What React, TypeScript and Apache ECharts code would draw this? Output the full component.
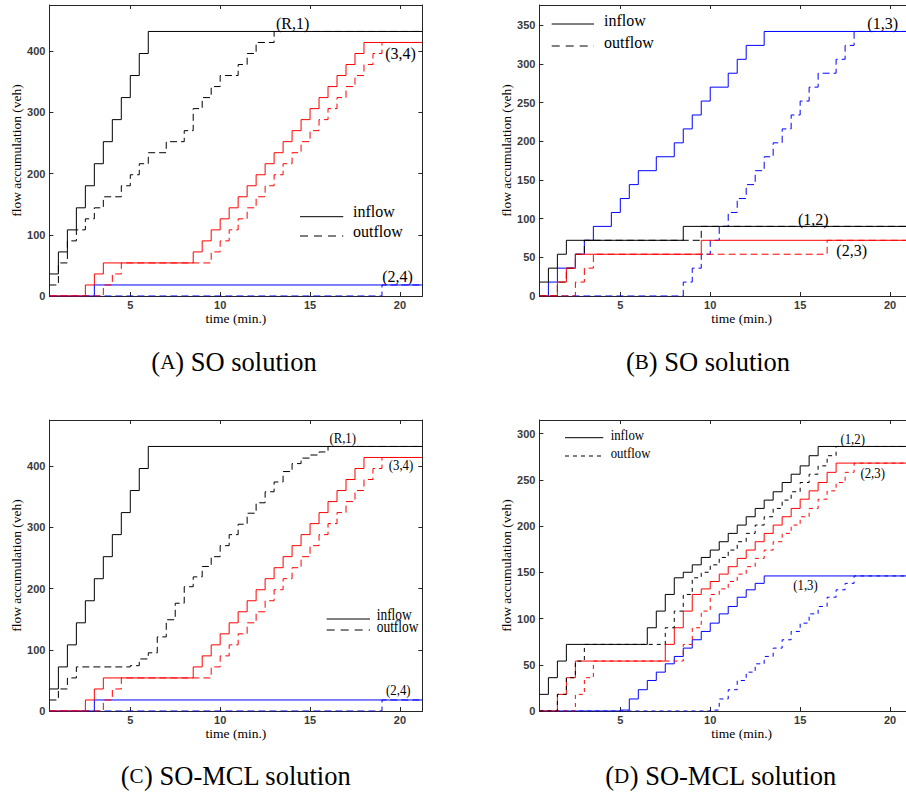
import React, { useEffect, useRef } from 'react';
import * as echarts from 'echarts';

type Pt = [number, number];

// ---------- tick values ----------
const xTicks = [5, 10, 15, 20];
const yTicksAC = [0, 100, 200, 300, 400];
const yTicksB = [0, 50, 100, 150, 200, 250, 300, 350];
const yTicksD = [0, 50, 100, 150, 200, 250, 300];

// ---------- (A) SO solution ----------
const aR1In: Pt[] = [[0.5, 36], [1, 72], [1.5, 108], [2, 144], [2.5, 180], [3, 216], [3.5, 252], [4, 288], [4.5, 324], [5, 360], [5.5, 396], [6, 432]];
const aR1Out: Pt[] = [[0.5, 18], [1, 54], [1.5, 90], [2, 108], [2.5, 126], [3, 144], [3.5, 162], [4.5, 180], [5, 198], [5.5, 216], [6, 234], [7, 252], [8, 270], [8.5, 306], [9, 324], [9.5, 342], [10, 360], [11, 378], [11.5, 396], [12, 414], [13, 432]];
const a34In: Pt[] = [[0.5, 0], [2.5, 18], [3, 36], [3.5, 54], [8.5, 72], [9, 90], [9.5, 108], [10, 126], [10.5, 144], [11, 162], [11.5, 180], [12, 198], [12.5, 216], [13, 234], [13.5, 252], [14, 270], [14.5, 288], [15, 306], [15.5, 324], [16, 342], [16.5, 360], [17, 378], [17.5, 396], [18, 414]];
const a34Out: Pt[] = [[0.5, 0], [3.5, 18], [4, 36], [4.5, 54], [9.5, 72], [10, 90], [10.5, 108], [11, 126], [11.5, 144], [12, 162], [12.5, 180], [13, 198], [13.5, 216], [14, 234], [14.5, 252], [15, 270], [15.5, 288], [16, 306], [16.5, 324], [17, 342], [17.5, 360], [18, 378], [18.5, 396], [19, 414]];
const a24In: Pt[] = [[0.5, 0], [3, 18]];
const a24Out: Pt[] = [[0.5, 0], [19, 18]];

// ---------- (B) SO solution ----------
const b12In: Pt[] = [[0.5, 18], [1, 36], [1.5, 54], [2, 72], [8.5, 90]];
const b12Out: Pt[] = [[0.5, 0], [1.5, 18], [2, 36], [2.5, 54], [3, 72], [9.5, 90]];
const b23In: Pt[] = [[0.5, 0], [1.5, 18], [2, 36], [2.5, 54], [9.5, 72]];
const b23Out: Pt[] = [[0.5, 0], [2.5, 18], [3, 36], [3.5, 54], [16.5, 72]];
const b13In: Pt[] = [[0.5, 0], [1, 18], [1.5, 36], [2.5, 54], [3, 72], [3.5, 90], [4.5, 108], [5, 126], [5.5, 144], [6, 162], [7, 180], [8, 198], [8.5, 216], [9, 234], [9.5, 252], [10, 270], [11, 288], [11.5, 306], [12, 324], [13, 342]];
const b13Out: Pt[] = [[0.5, 0], [8.5, 18], [9, 36], [9.5, 54], [10, 72], [10.5, 90], [11, 108], [11.5, 126], [12, 144], [12.5, 162], [13, 180], [13.5, 198], [14, 216], [14.5, 234], [15, 252], [15.5, 270], [16, 288], [17, 306], [17.5, 324], [18, 342]];

// ---------- (C) SO-MCL solution ----------
const cR1In: Pt[] = [[0.5, 36], [1, 72], [1.5, 108], [2, 144], [2.5, 180], [3, 216], [3.5, 252], [4, 288], [4.5, 324], [5, 360], [5.5, 396], [6, 432]];
const cR1Out: Pt[] = [[0.5, 18], [1, 36], [1.5, 54], [2, 72], [5, 74], [5.5, 85], [6, 95], [6.5, 121], [7, 149], [7.5, 176], [8, 203], [8.5, 219], [9, 236], [9.5, 252], [10, 270], [10.5, 288], [11, 305], [11.5, 323], [12, 340], [12.5, 358], [13, 374], [13.5, 391], [14, 404], [14.5, 413], [15, 418], [15.5, 423], [16, 432]];
const c34In: Pt[] = [[0.5, 0], [2.5, 18], [3, 36], [3.5, 54], [8.5, 72], [9, 90], [9.5, 108], [10, 126], [10.5, 144], [11, 162], [11.5, 180], [12, 198], [12.5, 216], [13, 234], [13.5, 252], [14, 270], [14.5, 288], [15, 306], [15.5, 324], [16, 342], [16.5, 360], [17, 378], [17.5, 396], [18, 414]];
const c34Out: Pt[] = [[0.5, 0], [3.5, 18], [4, 36], [4.5, 54], [9.5, 72], [10, 90], [10.5, 108], [11, 126], [11.5, 144], [12, 162], [12.5, 180], [13, 198], [13.5, 216], [14, 234], [14.5, 252], [15, 270], [15.5, 288], [16, 306], [16.5, 324], [17, 342], [17.5, 360], [18, 378], [18.5, 396], [19, 414]];
const c24In: Pt[] = [[0.5, 0], [3, 18]];
const c24Out: Pt[] = [[0.5, 0], [19, 18]];

// ---------- (D) SO-MCL solution ----------
const d12In: Pt[] = [[0.5, 18], [1, 36], [1.5, 54], [2, 72], [6.5, 90], [7, 108], [7.5, 126], [8, 144], [8.5, 150], [9, 158], [9.5, 166], [10, 174], [10.5, 183], [11, 192], [11.5, 201], [12, 210], [12.5, 219], [13, 228], [13.5, 237], [14, 247], [14.5, 256], [15, 265], [15.5, 276], [16, 286]];
const d12Out: Pt[] = [[0.5, 0], [1.5, 18], [2, 36], [2.5, 54], [3, 72], [7.5, 90], [8, 108], [8.5, 126], [9, 144], [9.5, 150], [10, 158], [10.5, 166], [11, 174], [11.5, 183], [12, 192], [12.5, 201], [13, 210], [13.5, 219], [14, 228], [14.5, 237], [15, 247], [15.5, 256], [16, 265], [16.5, 276], [17, 286]];
const d23In: Pt[] = [[0.5, 0], [1.5, 18], [2, 36], [2.5, 54], [7.5, 72], [8, 90], [8.5, 108], [9, 126], [9.5, 132], [10, 140], [10.5, 148], [11, 156], [11.5, 165], [12, 174], [12.5, 183], [13, 192], [13.5, 201], [14, 210], [14.5, 219], [15, 229], [15.5, 238], [16, 247], [16.5, 258], [17, 268]];
const d23Out: Pt[] = [[0.5, 0], [2.5, 18], [3, 36], [3.5, 54], [8.5, 72], [9, 90], [9.5, 108], [10, 126], [10.5, 132], [11, 140], [11.5, 148], [12, 156], [12.5, 165], [13, 174], [13.5, 183], [14, 192], [14.5, 201], [15, 210], [15.5, 219], [16, 229], [16.5, 238], [17, 247], [17.5, 258], [18, 268]];
const d13In: Pt[] = [[0.5, 0], [5, 1], [5.5, 13], [6, 23], [6.5, 33], [7, 42], [7.5, 51], [8, 59], [8.5, 68], [9, 77], [9.5, 86], [10, 95], [10.5, 105], [11, 113], [11.5, 123], [12, 131], [12.5, 138], [13, 146]];
const d13Out: Pt[] = [[0.5, 0], [10, 1], [10.5, 13], [11, 23], [11.5, 33], [12, 42], [12.5, 51], [13, 59], [13.5, 68], [14, 77], [14.5, 86], [15, 95], [15.5, 105], [16, 113], [16.5, 123], [17, 131], [17.5, 138], [18, 146]];

// ---------- styling / layout ----------
const BLACK = '#000000';
const RED = '#ff0000';
const BLUE = '#0000ff';
const AXIS_COLOR = '#262626';
const SERIF = '"Liberation Serif", "Times New Roman", serif';
const SANS = '"Liberation Sans", Arial, sans-serif';
const X_MIN = 0.5;

type S = { name: string; data: Pt[]; color: string; dashed: boolean };
type Panel = {
  xMax: number; yMax: number; yTicks: number[];
  left: number; top: number; width: number; height: number;
  dash: number[]; series: S[];
};

const panels: Panel[] = [
  {
    xMax: 21.25, yMax: 475.2, yTicks: yTicksAC, left: 49.4, top: 5, width: 373, height: 291, dash: [7, 4],
    series: [
      { name: '(2,4) inflow', data: a24In, color: BLUE, dashed: false },
      { name: '(2,4) outflow', data: a24Out, color: BLUE, dashed: true },
      { name: '(3,4) inflow', data: a34In, color: RED, dashed: false },
      { name: '(3,4) outflow', data: a34Out, color: RED, dashed: true },
      { name: '(R,1) inflow', data: aR1In, color: BLACK, dashed: false },
      { name: '(R,1) outflow', data: aR1Out, color: BLACK, dashed: true },
    ],
  },
  {
    xMax: 23, yMax: 376.2, yTicks: yTicksB, left: 539.4, top: 5, width: 404.6, height: 291, dash: [7, 4],
    series: [
      { name: '(1,3) inflow', data: b13In, color: BLUE, dashed: false },
      { name: '(1,3) outflow', data: b13Out, color: BLUE, dashed: true },
      { name: '(1,2) outflow', data: b12Out, color: BLACK, dashed: true },
      { name: '(1,2) inflow', data: b12In, color: BLACK, dashed: false },
      { name: '(2,3) inflow', data: b23In, color: RED, dashed: false },
      { name: '(2,3) outflow', data: b23Out, color: RED, dashed: true },
    ],
  },
  {
    xMax: 21.25, yMax: 475.2, yTicks: yTicksAC, left: 49.4, top: 420, width: 373, height: 291, dash: [7, 4],
    series: [
      { name: '(2,4) inflow', data: c24In, color: BLUE, dashed: false },
      { name: '(2,4) outflow', data: c24Out, color: BLUE, dashed: true },
      { name: '(3,4) inflow', data: c34In, color: RED, dashed: false },
      { name: '(3,4) outflow', data: c34Out, color: RED, dashed: true },
      { name: '(R,1) inflow', data: cR1In, color: BLACK, dashed: false },
      { name: '(R,1) outflow', data: cR1Out, color: BLACK, dashed: true },
    ],
  },
  {
    xMax: 23, yMax: 314.6, yTicks: yTicksD, left: 539.4, top: 420, width: 404.6, height: 291, dash: [4, 4],
    series: [
      { name: '(1,3) inflow', data: d13In, color: BLUE, dashed: false },
      { name: '(1,3) outflow', data: d13Out, color: BLUE, dashed: true },
      { name: '(2,3) inflow', data: d23In, color: RED, dashed: false },
      { name: '(2,3) outflow', data: d23Out, color: RED, dashed: true },
      { name: '(1,2) inflow', data: d12In, color: BLACK, dashed: false },
      { name: '(1,2) outflow', data: d12Out, color: BLACK, dashed: true },
    ],
  },
];

// annotation labels: [text, centerX, centerY, fontSize, scaleX]
const linkLabels: [string, number, number, number, number][] = [
  ['(R,1)', 292.7, 23.5, 16, 1], ['(3,4)', 400.5, 53.5, 16, 1], ['(2,4)', 397.5, 276, 16, 1],
  ['(1,3)', 882.7, 23.5, 16, 1], ['(1,2)', 813.3, 219, 16, 1], ['(2,3)', 851.7, 250, 16, 1],
  ['(R,1)', 342.7, 438.5, 15, 0.85], ['(3,4)', 401, 465, 15, 0.85], ['(2,4)', 398.3, 690, 15, 0.85],
  ['(1,2)', 852.7, 439.5, 15, 0.85], ['(2,3)', 872.7, 473.5, 15, 0.85], ['(1,3)', 805.5, 585, 15, 0.85],
];

// legend boxes: [lineX1, lineX2, solidY, dashedY, textX, inflowY, outflowY, fontSize, scaleX, dash]
const legends: [number, number, number, number, number, number, number, number, number, number[]][] = [
  [300, 343.3, 216.7, 236, 353, 211.5, 231, 16, 1, [8, 6]],
  [551.7, 594, 24, 46, 604, 20, 42, 16, 1, [8, 6]],
  [326.7, 370, 619, 630, 376.7, 615, 627, 16, 0.84, [8, 6]],
  [565, 603.3, 437.7, 456, 610.7, 435, 453, 14.5, 0.88, [4, 4]],
];

// captions: [letter, rest, centerX, centerY]
const captions: [string, string, number, number][] = [
  ['A', ') SO solution', 234, 362],
  ['B', ') SO solution', 708, 362],
  ['C', ') SO-MCL solution', 236, 776],
  ['D', ') SO-MCL solution', 721, 776],
];

function buildOption() {
  const grid: any[] = [];
  const xAxis: any[] = [];
  const yAxis: any[] = [];
  const series: any[] = [];
  const labelStyle = { fontFamily: SANS, fontWeight: 'bold', fontSize: 11, color: '#3a3a3a' };
  const axisLine = { show: true, onZero: false, lineStyle: { color: AXIS_COLOR, width: 1 } };
  const tick = (vals: number[]) => ({ show: true, inside: true, length: 4, customValues: vals, lineStyle: { color: AXIS_COLOR, width: 1 } });

  panels.forEach((p, i) => {
    grid.push({ left: p.left, top: p.top, width: p.width, height: p.height, containLabel: false, outerBoundsMode: 'none', show: false });
    xAxis.push({
      type: 'value', gridIndex: i, position: 'bottom', min: X_MIN, max: p.xMax,
      axisLine, axisTick: tick(xTicks), splitLine: { show: false },
      axisLabel: { customValues: xTicks, margin: 3, ...labelStyle },
      name: 'time (min.)', nameLocation: 'middle', nameGap: 15,
      nameTextStyle: { fontFamily: SERIF, fontSize: 13.5, color: '#000' },
    });
    xAxis.push({
      type: 'value', gridIndex: i, position: 'top', min: X_MIN, max: p.xMax,
      axisLine, axisTick: tick(xTicks), splitLine: { show: false },
      axisLabel: { show: false, customValues: xTicks },
    });
    yAxis.push({
      type: 'value', gridIndex: i, position: 'left', min: 0, max: p.yMax,
      axisLine, axisTick: tick(p.yTicks), splitLine: { show: false },
      axisLabel: { customValues: p.yTicks, margin: 4, ...labelStyle },
      name: 'flow accumulation (veh)', nameLocation: 'middle', nameGap: 25, nameRotate: 90,
      nameTextStyle: { fontFamily: SERIF, fontSize: 13.5, color: '#000' },
    });
    yAxis.push({
      type: 'value', gridIndex: i, position: 'right', min: 0, max: p.yMax,
      axisLine, axisTick: tick(p.yTicks), splitLine: { show: false },
      axisLabel: { show: false, customValues: p.yTicks },
    });
    p.series.forEach((s) => {
      const last = s.data[s.data.length - 1];
      series.push({
        type: 'line', name: s.name, xAxisIndex: 2 * i, yAxisIndex: 2 * i,
        data: s.data.concat([[p.xMax, last[1]]]),
        step: 'end', symbol: 'none', showSymbol: false, silent: true, clip: true,
        lineStyle: { color: s.color, width: 1, type: s.dashed ? p.dash : 'solid' },
        itemStyle: { color: s.color },
      });
    });
  });

  const graphic: any[] = [];
  linkLabels.forEach(([t, x, y, fs, sx]) => {
    graphic.push({
      type: 'text', x, y, scaleX: sx, silent: true,
      style: { text: t, x: 0, y: 0, textAlign: 'center', textVerticalAlign: 'middle', font: `${fs}px ${SERIF}`, fill: '#000' },
    });
  });
  legends.forEach(([x1, x2, ys, yd, tx, yi, yo, fs, sx, dash]) => {
    graphic.push({ type: 'line', silent: true, shape: { x1, y1: ys, x2, y2: ys }, style: { stroke: '#000', lineWidth: 1 } });
    graphic.push({ type: 'line', silent: true, shape: { x1, y1: yd, x2, y2: yd }, style: { stroke: '#000', lineWidth: 1, lineDash: dash } });
    graphic.push({ type: 'text', x: tx, y: yi, scaleX: sx, silent: true, style: { text: 'inflow', x: 0, y: 0, textAlign: 'left', textVerticalAlign: 'middle', font: `${fs}px ${SERIF}`, fill: '#000' } });
    graphic.push({ type: 'text', x: tx, y: yo, scaleX: sx, silent: true, style: { text: 'outflow', x: 0, y: 0, textAlign: 'left', textVerticalAlign: 'middle', font: `${fs}px ${SERIF}`, fill: '#000' } });
  });
  captions.forEach(([letter, rest, x, y]) => {
    graphic.push({
      type: 'text', x, y, silent: true,
      style: {
        text: `{p|(}{s|${letter}}{p|${rest}}`, x: 0, y: 0, textAlign: 'center', textVerticalAlign: 'middle',
        rich: {
          p: { fontFamily: SERIF, fontSize: 26.5, fill: '#000', color: '#000' },
          s: { fontFamily: SERIF, fontSize: 21, fill: '#000', color: '#000' },
        },
      },
    });
  });

  return { animation: false, backgroundColor: '#ffffff', grid, xAxis, yAxis, series, graphic };
}

export default function App() {
  const ref = useRef<HTMLDivElement>(null);
  useEffect(() => {
    if (!ref.current) return;
    const chart = echarts.init(ref.current, undefined, { renderer: 'svg' });
    chart.setOption(buildOption() as any);
    return () => chart.dispose();
  }, []);
  return <div ref={ref} style={{ position: 'absolute', left: 0, top: 0, width: 906, height: 796, background: '#fff' }} />;
}
